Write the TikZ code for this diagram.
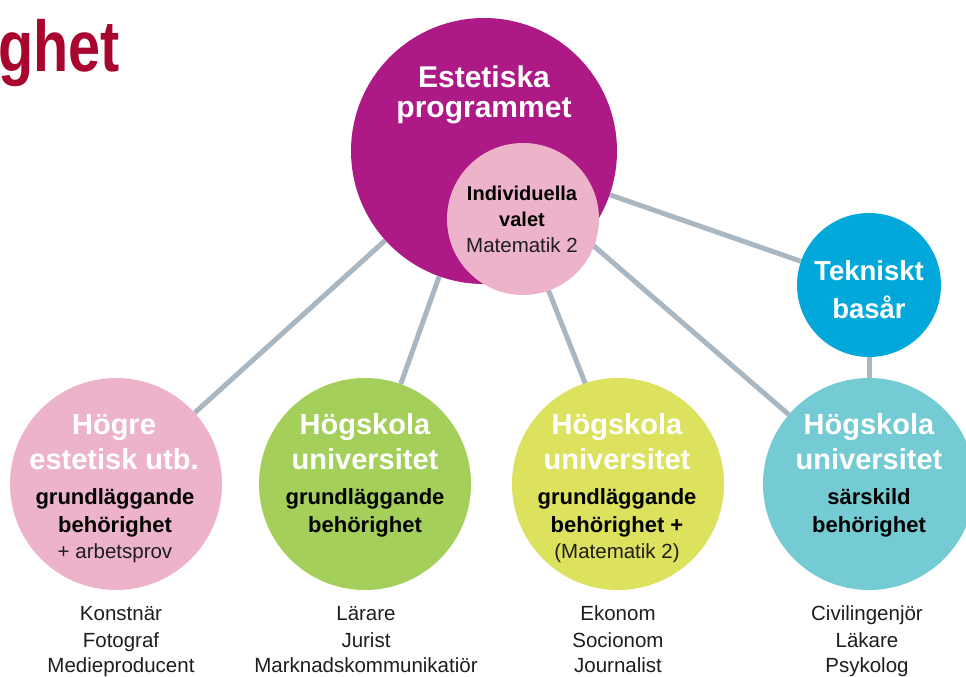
\documentclass[tikz,border=0pt]{standalone}
\usepackage{fontspec}
\setmainfont{Liberation Sans}
\newfontfamily\condfont[FakeStretch=0.8]{Liberation Sans}
\usetikzlibrary{backgrounds}
\definecolor{cmag}{HTML}{AD1A86}
\definecolor{cpink}{HTML}{EDB3CB}
\definecolor{ccyan}{HTML}{02A8DA}
\definecolor{cgreen}{HTML}{A3CF5A}
\definecolor{cyellow}{HTML}{DCE15E}
\definecolor{cteal}{HTML}{74CBD3}
\definecolor{cline}{HTML}{A8B7C1}
\definecolor{ctitle}{HTML}{A8062F}
\definecolor{ctext}{HTML}{1E1E1E}
\tikzset{
  bub/.style={circle, inner sep=0pt, draw=none},
  conn/.style={draw=cline, line width=5pt},
  whead/.style={anchor=base, inner sep=0pt, text=white, font=\bfseries\fontsize{29}{35}\selectfont},
  bhead/.style={anchor=base, inner sep=0pt, text=white, font=\bfseries\fontsize{30}{36}\selectfont},
  theadt/.style={anchor=base, inner sep=0pt, text=white, font=\bfseries\fontsize{27.5}{33}\selectfont},
  btxt/.style={anchor=base, inner sep=0pt, text=black, font=\bfseries\fontsize{22}{27}\selectfont},
  ptxt/.style={anchor=base, inner sep=0pt, text=black, font=\bfseries\fontsize{20}{26}\selectfont},
  rtxt/.style={anchor=base, inner sep=0pt, text=ctext, font=\fontsize{20.5}{26}\selectfont},
  lbl/.style={anchor=base, inner sep=0pt, text=ctext, font=\fontsize{20.5}{26}\selectfont},
}
\begin{document}
\begin{tikzpicture}[x=1pt,y=-1pt]
\useasboundingbox (0,0) rectangle (966,677);
\clip (0,0) rectangle (966,677);

% title fragment
\node[anchor=base west, inner sep=0pt, text=ctitle, font=\condfont\bfseries\fontsize{72}{80}\selectfont] (title) at (-2,71) {ghet};

% circles
\node[bub, fill=cmag, minimum size=266pt] (big) at (484,151) {};
\node[bub, fill=cpink, minimum size=152pt] (ind) at (523,219) {};
\node[bub, fill=ccyan, minimum size=144pt] (tek) at (869,285) {};
\node[bub, fill=cpink, minimum size=212pt] (hog) at (116,484) {};
\node[bub, fill=cgreen, minimum size=212pt] (gru) at (365,484) {};
\node[bub, fill=cyellow, minimum size=212pt] (mat) at (618,484) {};
\node[bub, fill=cteal, minimum size=212pt] (sar) at (869,484) {};

\coordinate (ytop) at (493,150);
\coordinate (ybot) at (625,484);

\begin{scope}[on background layer]
  \fill[white] (0,0) rectangle (966,677);
  \draw[conn] (big) -- (hog);
  \draw[conn] (big) -- (gru);
  \draw[conn] (ytop) -- (ybot);
  \draw[conn] (big) -- (sar);
  \draw[conn] (big) -- (tek);
  \draw[conn] (tek) -- (sar);
\end{scope}

% big circle text
\node[bhead] (e1) at (484,88) {Estetiska};
\node[bhead] (e2) at (484,117) {programmet};

% individual choice
\node[ptxt] (i1) at (522,200) {Individuella};
\node[ptxt] (i2) at (522,226) {valet};
\node[rtxt] (i3) at (522,252) {Matematik 2};

% tekniskt basår
\node[theadt] (t1) at (869,280) {Tekniskt};
\node[theadt] (t2) at (869,318) {basår};

% Högre estetisk
\node[whead] (h1) at (114,434) {Högre};
\node[whead] (h2) at (114,469) {estetisk utb.};
\node[btxt] (h3) at (115,504) {grundläggande};
\node[btxt] (h4) at (115,532) {behörighet};
\node[rtxt] (h5) at (115,558) {+ arbetsprov};

% green
\node[whead] (g1) at (365,434) {Högskola};
\node[whead] (g2) at (365,469) {universitet};
\node[btxt] (g3) at (365,504) {grundläggande};
\node[btxt] (g4) at (365,532) {behörighet};

% yellow
\node[whead] (y1) at (617,434) {Högskola};
\node[whead] (y2) at (617,469) {universitet};
\node[btxt] (y3) at (617,504) {grundläggande};
\node[btxt] (y4) at (617,532) {behörighet +};
\node[rtxt] (y5) at (617,558) {(Matematik 2)};

% teal
\node[whead] (s1) at (869,434) {Högskola};
\node[whead] (s2) at (869,469) {universitet};
\node[btxt] (s3) at (869,504) {särskild};
\node[btxt] (s4) at (869,532) {behörighet};

% labels below
\node[lbl] (l1a) at (121,620) {Konstnär};
\node[lbl] (l1b) at (121,647) {Fotograf};
\node[lbl] (l1c) at (121,672) {Medieproducent};

\node[lbl] (l2a) at (366,620) {Lärare};
\node[lbl] (l2b) at (366,647) {Jurist};
\node[lbl] (l2c) at (366,672) {Marknadskommunikatiör};

\node[lbl] (l3a) at (618,620) {Ekonom};
\node[lbl] (l3b) at (618,647) {Socionom};
\node[lbl] (l3c) at (618,672) {Journalist};

\node[lbl] (l4a) at (867,620) {Civilingenjör};
\node[lbl] (l4b) at (867,647) {Läkare};
\node[lbl] (l4c) at (867,672) {Psykolog};
\end{tikzpicture}
\end{document}
